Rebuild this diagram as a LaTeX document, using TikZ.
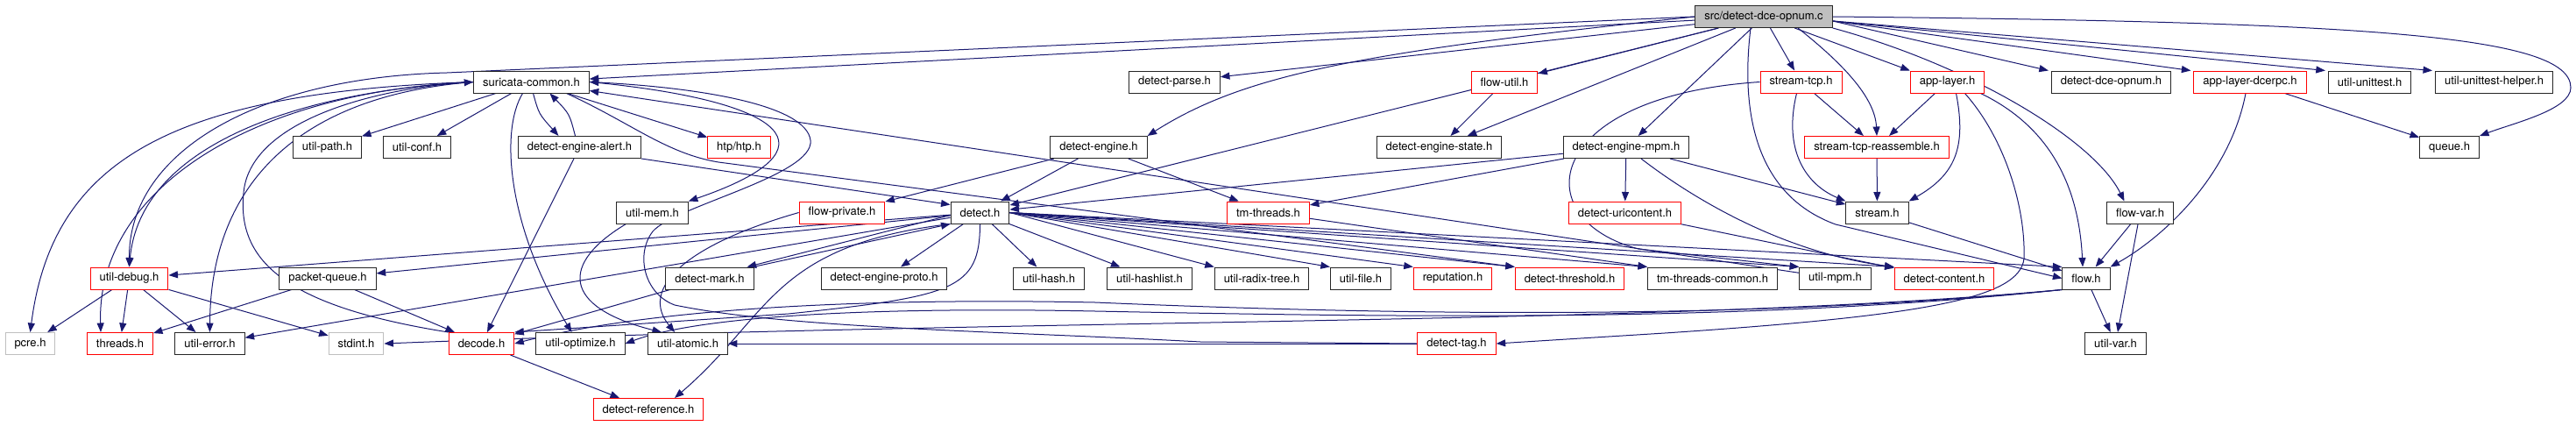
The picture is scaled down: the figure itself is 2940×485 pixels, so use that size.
\documentclass[tikz,border=0pt]{standalone}
\usepackage{fontspec}
\setmainfont{TeX Gyre Heros}
\usetikzlibrary{arrows.meta,positioning,calc,backgrounds}
\definecolor{depblue}{RGB}{25,25,112}
\definecolor{hdrred}{RGB}{255,0,0}
\definecolor{hdrgray}{RGB}{191,191,191}

\tikzset{
  hfile/.style={draw=black!85,line width=1pt,fill=white,minimum height=25pt,
    inner xsep=10.5pt,inner ysep=0pt,font=\fontsize{13}{15}\selectfont},
  redfile/.style={hfile,draw=hdrred},
  sysfile/.style={hfile,draw=hdrgray},
  rootfile/.style={hfile,fill=hdrgray},
  dep/.style={draw=depblue,line width=1pt,-{Triangle[length=10.5pt,width=8pt]},fill=none}
}

\begin{document}
\begin{tikzpicture}[x=1pt,y=-1pt]
\useasboundingbox (0,0) rectangle (2940,485);

% the file itself
\node[rootfile] (src) at (2013,19) {src/detect-dce-opnum.c};

% plain headers
\foreach \n/\x/\y/\t in {
    scommon/606.5/93.5/suricata-common.h, dparse/1340.5/93.5/detect-parse.h,
    dceh/2409.5/93.5/detect-dce-opnum.h, unittest/2704.5/93.5/util-unittest.h,
    uthelper/2846.5/93.5/util-unittest-helper.h,
    upath/373.5/168/util-path.h, uconf/476/168/util-conf.h,
    dealert/661.5/168/detect-engine-alert.h, dengine/1254/168/detect-engine.h,
    dstate/1642.5/168/detect-engine-state.h, dmpm/1856/168/detect-engine-mpm.h,
    queue/2795.5/168/queue.h,
    umem/744.5/242.5/util-mem.h, detect/1118.5/242.5/detect.h,
    stream/2142.5/242.5/stream.h, flowvar/2442.5/242.5/flow-var.h,
    pqueue/374/317.5/packet-queue.h, dmark/810/317.5/detect-mark.h,
    dproto/1009/317.5/detect-engine-proto.h, uhash/1197/317.5/util-hash.h,
    uhlist/1312/317.5/util-hashlist.h, uradix/1440/317.5/util-radix-tree.h,
    ufile/1553/317.5/util-file.h, tmcommon/1954.5/317.5/tm-threads-common.h,
    umpm/2094.5/317.5/util-mpm.h, flow/2381/317.5/flow.h,
    uerror/239.5/392/util-error.h, uopt/662.5/392/util-optimize.h,
    uatomic/785/392/util-atomic.h, uvar/2414.5/392/util-var.h}{
  \node[hfile] (\n) at (\x,\y) {\t};
}

% headers with more includes below them
\foreach \n/\x/\y/\t in {
    flowutil/1717/93.5/flow-util.h, stcp/2055.5/93.5/stream-tcp.h,
    applayer/2222.5/93.5/app-layer.h, dcerpc/2568/93.5/app-layer-dcerpc.h,
    reassem/2142/168/stream-tcp-reassemble.h,
    fprivate/961/242.5/flow-private.h, tmthreads/1447.5/242.5/tm-threads.h,
    uricontent/1854.5/242.5/detect-uricontent.h,
    udebug/147.5/317.5/util-debug.h, reput/1658/317.5/reputation.h,
    dthresh/1791.5/317.5/detect-threshold.h, dcontent/2219/317.5/detect-content.h,
    threads/137/392/threads.h, decode/549.5/392/decode.h,
    dtag/1662.5/392/detect-tag.h, dref/740/467/detect-reference.h}{
  \node[redfile] (\n) at (\x,\y) {\t};
}
\node[redfile] (htp) at (843.5,168) {htp/htp.h};

% system headers
\node[sysfile] (pcre) at (34.5,392) {pcre.h};
\node[sysfile] (stdint) at (406.5,392) {stdint.h};

\begin{scope}[on background layer]
% includes of the .c file
\draw[dep] (src) -- (scommon);
\draw[dep] (src.west) -- (510,83) .. controls (300,88) and (147,170) .. (udebug.north);
\draw[dep] (src) -- (dparse);
\draw[dep] (src.west) .. controls (1550,60) and (1420,85) .. (dengine.north east);
\draw[dep] (src) -- (detect);
\draw[dep] (src) -- (flowutil);
\draw[dep] (src) -- (dstate);
\draw[dep] (src) -- (dmpm);
\draw[dep] (src) -- (stcp);
\draw[dep] ([xshift=39pt]src.south) .. controls (2100,70) and (2140,110) .. (reassem.north);
\draw[dep] (src) -- (applayer.north west);
\foreach \t in {dceh,dcerpc,unittest,uthelper}
  \draw[dep] ([yshift=-5pt]src.east) -- ([xshift=-3pt]\t.north west);
\draw[dep] (src.east) .. controls (2700,25) and (2934,40) .. (2934,100)
    .. controls (2934,125) and (2870,140) .. (queue.north east);
\draw[dep] (src.south east) .. controls (2250,75) and (2390,160) .. ([xshift=-18pt]flowvar.north);
\draw[dep] ([xshift=-15pt]src.south) .. controls (1985,140) and (2010,225) .. (2095,256)
    -- (flow.west);

% suricata-common.h
\draw[dep] (scommon) -- (upath);
\draw[dep] (scommon) -- (uconf);
\draw[dep] ([xshift=2pt]scommon.south) .. controls (615,130) .. ([xshift=-24pt]dealert.north);
\draw[dep] ([xshift=-5pt]dealert.north) .. controls (650,130) .. ([xshift=21pt]scommon.south);
\draw[dep] (scommon) -- (htp);
\draw[dep] (scommon.east) .. controls (900,115) and (960,170) .. (umem.north east);
\draw[dep] (scommon.west) .. controls (200,105) and (60,180) .. (pcre.north);
\draw[dep] (scommon.west) .. controls (280,105) and (110,220) .. ([xshift=-22pt]threads.north);
\draw[dep] (scommon.west) .. controls (330,105) and (160,170) .. (udebug.north);
\draw[dep] (scommon.west) .. controls (330,110) and (240,220) .. (uerror.north);
\draw[dep] ([xshift=-10pt]scommon.south) .. controls (570,150) and (580,260) .. ([xshift=-10pt]uopt.north);
\draw[dep] ([xshift=40pt]scommon.south) .. controls (720,140) and (760,175) .. (820,185)
    -- (dthresh.north west);
\draw[dep] (umpm) -- (scommon);
\draw[dep] (decode.north west) .. controls (330,350) and (270,300) .. (278,220)
    .. controls (285,140) and (420,102) .. (scommon.west);
\draw[dep] (dtag.west) -- (1370,390) .. controls (1150,378) and (900,375) .. (770,348)
    .. controls (735,335) and (725,290) .. (745,264)
    .. controls (770,235) and (930,200) .. (925,160)
    .. controls (920,120) and (800,100) .. (scommon.east);

% second row
\draw[dep] (dealert) -- (decode);
\draw[dep] (dealert.south east) -- ([yshift=-4pt]detect.north west);
\draw[dep] (dengine) -- (detect);
\draw[dep] (dengine) -- (fprivate);
\draw[dep] (dengine) -- (tmthreads);
\draw[dep] (dmpm) -- (detect);
\draw[dep] (dmpm) -- (tmthreads);
\draw[dep] (dmpm) -- (uricontent);
\draw[dep] (dmpm) -- (stream);
\draw[dep] (dmpm) .. controls (1950,240) and (2050,290) .. (dcontent.north west);
\draw[dep] (flowutil) -- (dstate);
\draw[dep] (stcp) -- (reassem);
\draw[dep] ([xshift=-5pt]stcp.south) .. controls (2035,170) and (2060,210) .. (stream.north west);
\draw[dep] (stcp.west) .. controls (1760,110) and (1740,250) .. (1870,284) -- (umpm.north west);
\draw[dep] (applayer) -- (reassem);
\draw[dep] ([xshift=10pt]applayer.south) .. controls (2245,170) and (2230,200) .. (stream.north east);
\draw[dep] ([xshift=38pt]applayer.south) .. controls (2330,140) and (2372,200) .. ([xshift=-4pt]flow.north);
\draw[dep] ([xshift=20pt]applayer.south) .. controls (2290,160) and (2312,240) .. (2310,295)
    .. controls (2305,340) and (2200,360) .. (1900,380) -- (dtag.east);
\draw[dep] (dcerpc) -- (queue);
\draw[dep] ([xshift=-5pt]dcerpc.south) .. controls (2545,200) and (2470,270) .. (flow.north east);
\draw[dep] (reassem) -- (stream);

% third row and below
\draw[dep] (stream) -- (flow);
\draw[dep] (flowvar) -- (flow);
\draw[dep] (flowvar) -- (uvar);
\draw[dep] (flow) -- (uvar);
\draw[dep] (uricontent) -- (dcontent);
\draw[dep] (tmthreads) -- (tmcommon.north west);
\foreach \t in {dproto,uhash,uhlist,udebug,pqueue,uerror}
  \draw[dep] (detect) -- (\t);
\foreach \t in {uradix,ufile,reput,dthresh,tmcommon,umpm,dcontent,flow}
  \draw[dep] (detect.east) -- (\t.north west);
\draw[dep] ([yshift=-3pt]detect.west) -- ([xshift=-8pt]dmark.north east);
\draw[dep] ([xshift=-1pt]dmark.north east) -- (detect.south west);
\draw[dep] (dmark) -- (decode);
\draw[dep] (detect.south) .. controls (1118,330) and (1090,338) .. (900,358) -- (decode.north east);
\draw[dep] (detect.south west) .. controls (880,280) and (880,360) .. ([xshift=30pt]dref.north);
\draw[dep] (fprivate.west) .. controls (780,280) and (730,330) .. ([xshift=-15pt]uatomic.north);
\draw[dep] ([xshift=-30pt]umem.south) .. controls (640,300) and (640,350) .. ([xshift=-30pt]uatomic.north);
\draw[dep] (dtag.west) -- (uatomic.east);
\draw[dep] (pqueue) -- (threads);
\draw[dep] (pqueue) -- (decode);
\draw[dep] (udebug) -- (pcre);
\draw[dep] (udebug) -- (threads);
\draw[dep] (udebug) -- (uerror);
\draw[dep] (udebug) -- (stdint);
\draw[dep] (decode) -- (dref);
\draw[dep] (flow.south west) .. controls (2000,365) and (1600,360) .. (1250,345)
    .. controls (1000,340) and (750,350) .. (decode.east);
\draw[dep] (flow.south west) .. controls (2000,368) and (1600,362) .. (1250,355)
    .. controls (1000,350) and (800,360) .. (uopt.east);
\draw[dep] (flow.south west) .. controls (1900,372) and (1200,362) .. (stdint.east);
\end{scope}
\end{tikzpicture}
\end{document}
